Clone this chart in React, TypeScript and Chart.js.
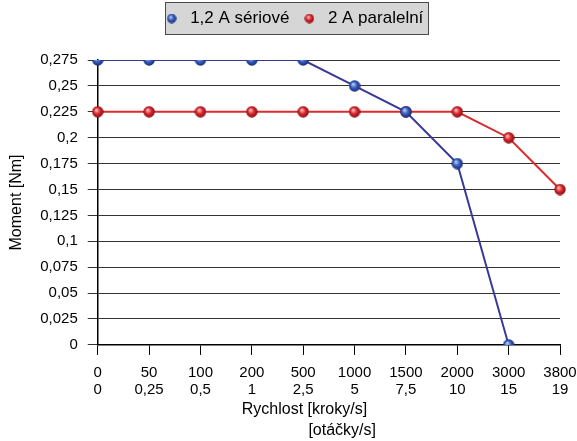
import React, { useEffect, useRef } from "react";
import { Chart, registerables } from "chart.js";

Chart.register(...registerables);

const STEPS_LABELS = ["0", "50", "100", "200", "500", "1000", "1500", "2000", "3000", "3800"];
const REV_LABELS = ["0", "0,25", "0,5", "1", "2,5", "5", "7,5", "10", "15", "19"];
const SERIAL_NAME = "1,2 A sériové";
const PARALLEL_NAME = "2 A paralelní";
const SERIAL_VALUES = [0.275, 0.275, 0.275, 0.275, 0.275, 0.25, 0.225, 0.175, 0, null];
const PARALLEL_VALUES = [0.225, 0.225, 0.225, 0.225, 0.225, 0.225, 0.225, 0.225, 0.2, 0.15];
const Y_MIN = 0;
const Y_MAX = 0.275;
const Y_STEP = 0.025;
const Y_TITLE = "Moment [Nm]";
const X_TITLE = ["Rychlost [kroky/s]" + " ".repeat(11), " ".repeat(6) + "[otáčky/s]"];

const FONT = "'Liberation Sans', Arial, sans-serif";
const LEGEND_HEIGHT = 60;
const LEGEND_SHIFT = 2;

function sphere(size: number, light: string, mid: string, dark: string) {
  const c = document.createElement("canvas");
  c.width = size;
  c.height = size;
  const ctx = c.getContext("2d")!;
  const r = size / 2;
  const g = ctx.createRadialGradient(r * 0.75, r * 0.7, r * 0.1, r, r, r);
  g.addColorStop(0, light);
  g.addColorStop(0.45, mid);
  g.addColorStop(1, dark);
  ctx.fillStyle = g;
  ctx.beginPath();
  ctx.arc(r, r, r - 0.3, 0, Math.PI * 2);
  ctx.fill();
  return c;
}

const legendLayoutPlugin = {
  id: "legendLayout",
  beforeUpdate(chart: any) {
    const lg = chart.legend;
    if (lg && !lg.__patched) {
      const orig = lg.fit.bind(lg);
      lg.fit = function () {
        orig();
        this.height = LEGEND_HEIGHT;
      };
      lg.__patched = true;
    }
  },
  afterLayout(chart: any) {
    const lg = chart.legend;
    if (lg) {
      lg.left += LEGEND_SHIFT;
      lg.right += LEGEND_SHIFT;
    }
  },
  beforeDraw(chart: any) {
    const lg = chart.legend;
    if (!lg || !lg.legendHitBoxes || !lg.legendHitBoxes.length) return;
    const boxes = lg.legendHitBoxes;
    let l = Infinity, r = -Infinity, t = Infinity, b = -Infinity;
    boxes.forEach((h: any) => {
      l = Math.min(l, h.left);
      r = Math.max(r, h.left + h.width);
      t = Math.min(t, h.top);
      b = Math.max(b, h.top + h.height);
    });
    const ctx = chart.ctx;
    ctx.save();
    const x0 = Math.round(l + 3) + 0.5;
    const x1 = Math.round(r + 5) + 0.5;
    const y0 = Math.round(t - 8) + 0.5;
    const y1 = Math.round(b + 7) + 0.5;
    ctx.fillStyle = "#d6d6d6";
    ctx.fillRect(x0, y0, x1 - x0, y1 - y0);
    ctx.strokeStyle = "#4a4a4a";
    ctx.lineWidth = 1;
    ctx.strokeRect(x0, y0, x1 - x0, y1 - y0);
    ctx.restore();
  },
};

export default function App() {
  const ref = useRef<HTMLCanvasElement | null>(null);

  useEffect(() => {
    document.body.style.margin = "0";
    const blueBig = sphere(12, "#b3c8f8", "#3a5fc0", "#14286e");
    const redBig = sphere(12, "#ffb8b8", "#dc2a30", "#7c0a0f");
    const blueSmall = sphere(10, "#b3c8f8", "#3a5fc0", "#14286e");
    const redSmall = sphere(10, "#ffb8b8", "#dc2a30", "#7c0a0f");
    const legendIcons = [blueSmall, redSmall];

    const labels = STEPS_LABELS.map((s, i) => [s, REV_LABELS[i]]);
    const chart = new Chart(ref.current!, {
      type: "line",
      data: {
        labels,
        datasets: [
          {
            label: SERIAL_NAME,
            data: SERIAL_VALUES,
            borderColor: "#363a96",
            backgroundColor: "#3457b8",
            borderWidth: 2,
            pointStyle: blueBig as any,
            pointRadius: 6,
            tension: 0,
          },
          {
            label: PARALLEL_NAME,
            data: PARALLEL_VALUES,
            borderColor: "#dc2b2e",
            backgroundColor: "#d82128",
            borderWidth: 2,
            pointStyle: redBig as any,
            pointRadius: 6,
            tension: 0,
          },
        ],
      },
      options: {
        responsive: false,
        animation: false,
        layout: { padding: { left: 4, right: 0, top: 0, bottom: 0 } },
        plugins: {
          tooltip: { enabled: false },
          legend: {
            display: true,
            position: "top",
            labels: {
              usePointStyle: true,
              pointStyleWidth: 20,
              padding: 10,
              color: "#000",
              font: { family: FONT, size: 17, lineHeight: 1.2 },
              generateLabels(chart: any) {
                return chart.data.datasets.map((ds: any, i: number) => ({
                  text: ds.label,
                  fillStyle: ds.backgroundColor,
                  strokeStyle: ds.borderColor,
                  lineWidth: 0,
                  pointStyle: legendIcons[i],
                  hidden: false,
                  datasetIndex: i,
                  fontColor: "#000",
                }));
              },
            },
          },
        },
        scales: {
          x: {
            type: "category",
            offset: false,
            afterFit: (s: any) => {
              s.paddingRight = 17;
              s.height = s.height - 8;
            },
            grid: {
              display: true,
              drawOnChartArea: false,
              drawTicks: true,
              tickLength: 10,
              color: "#000",
              offset: false,
            },
            border: { display: true, color: "#000", width: 1.5 },
            ticks: {
              color: "#000",
              font: { family: FONT, size: 15, lineHeight: 1.15 },
              padding: 9,
              maxRotation: 0,
              autoSkip: false,
            },
            title: {
              display: true,
              text: X_TITLE,
              color: "#000",
              font: { family: FONT, size: 16, lineHeight: 1.3 },
              padding: { top: 0, bottom: 0 },
            },
          },
          y: {
            min: Y_MIN,
            max: Y_MAX,
            grid: {
              display: true,
              drawOnChartArea: true,
              drawTicks: true,
              tickLength: 10,
              color: "#333",
              lineWidth: 1,
            },
            border: { display: true, color: "#000", width: 1.5 },
            ticks: {
              stepSize: Y_STEP,
              color: "#000",
              font: { family: FONT, size: 15 },
              padding: 10,
              callback: (v: any) => String(Math.round(Number(v) * 1000) / 1000).replace(".", ","),
            },
            title: {
              display: true,
              text: Y_TITLE,
              color: "#000",
              font: { family: FONT, size: 16, lineHeight: 1.2 },
              padding: { top: 3, bottom: 4 },
            },
          },
        },
      },
      plugins: [legendLayoutPlugin],
    });
    return () => chart.destroy();
  }, []);

  return <canvas ref={ref} width={577} height={441} style={{ display: "block" }} />;
}
